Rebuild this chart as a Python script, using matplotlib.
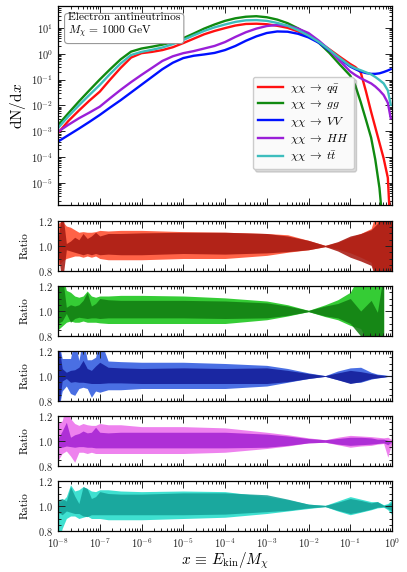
import numpy as np
import matplotlib
matplotlib.use("Agg")
import matplotlib.pyplot as plt
from matplotlib.ticker import LogLocator, MultipleLocator, NullFormatter

plt.rcParams.update({
    'font.family': 'serif',
    'font.serif': ['cmr10', 'DejaVu Serif'],
    'mathtext.fontset': 'cm',
    'axes.formatter.use_mathtext': True,
    'axes.unicode_minus': False,
    'font.size': 8,
    'axes.linewidth': 0.9,
})

# ---- main panel: log10(x) grid and log10(dN/dx) ----
log_x = [-8.0, -7.75, -7.5, -7.25, -7.0, -6.75, -6.5, -6.25, -6.0, -5.75, -5.5,
         -5.25, -5.0, -4.75, -4.5, -4.25, -4.0, -3.75, -3.5, -3.25, -3.0, -2.75,
         -2.5, -2.25, -2.0, -1.75, -1.5, -1.25, -1.0, -0.875, -0.75, -0.625, -0.5,
         -0.4, -0.3, -0.2, -0.1, -0.03]

log_qq = [-3.07, -2.6, -2.2, -1.82, -1.47, -1.0, -0.55, -0.15, 0.02, 0.07, 0.14,
          0.25, 0.41, 0.58, 0.75, 0.88, 0.99, 1.09, 1.15, 1.16, 1.14, 1.08,
          1.0, 0.86, 0.68, 0.45, 0.17, -0.12, -0.4, -0.52, -0.72, -1.45, -2.25,
          -2.85, -3.45, -4.05, -4.8, -7.0]
log_gg = [-2.76, -2.3, -1.85, -1.42, -1.0, -0.6, -0.22, 0.08, 0.2, 0.27, 0.35,
          0.45, 0.6, 0.78, 0.97, 1.13, 1.27, 1.37, 1.43, 1.45, 1.41, 1.32,
          1.18, 0.98, 0.74, 0.42, 0.03, -0.42, -0.85, -1.25, -1.87, -2.55, -3.25,
          -4.1, -5.2, -7.0, -9.0, -9.0]
log_vv = [-3.4, -3.15, -2.9, -2.64, -2.37, -2.08, -1.8, -1.5, -1.2, -0.9, -0.6,
          -0.35, -0.17, -0.08, -0.03, 0.03, 0.14, 0.3, 0.5, 0.67, 0.8, 0.86,
          0.85, 0.77, 0.63, 0.42, 0.12, -0.2, -0.5, -0.6, -0.69, -0.75, -0.78,
          -0.78, -0.76, -0.71, -0.65, -0.6]
log_hh = [-3.02, -2.75, -2.5, -2.28, -2.05, -1.72, -1.4, -1.1, -0.82, -0.55, -0.28,
          -0.1, 0.02, 0.1, 0.2, 0.3, 0.45, 0.65, 0.83, 0.97, 1.07, 1.11,
          1.08, 0.97, 0.8, 0.5, 0.15, -0.28, -0.69, -0.83, -0.95, -1.05, -1.15,
          -1.27, -1.42, -1.6, -1.9, -2.5]
log_tt = [-2.88, -2.42, -2.0, -1.6, -1.21, -0.78, -0.38, -0.05, 0.07, 0.15, 0.24,
          0.37, 0.53, 0.71, 0.88, 1.02, 1.13, 1.23, 1.29, 1.3, 1.27, 1.19,
          1.08, 0.91, 0.7, 0.45, 0.15, -0.17, -0.47, -0.57, -0.64, -0.72, -0.8,
          -0.9, -1.02, -1.15, -1.42, -1.98]

labels = [r'$\chi\chi\;\to\;q\bar{q}$', r'$\chi\chi\;\to\;gg$', r'$\chi\chi\;\to\;VV$',
          r'$\chi\chi\;\to\;HH$', r'$\chi\chi\;\to\;t\bar{t}$']
line_colors = ['#ff1010', '#108a10', '#0010ff', '#9a1fd8', '#3dbdbd']

# ---- ratio panels: log10(x) nodes, light band and dark band limits ----
log_xr = [-8.0, -7.9, -7.8, -7.7, -7.6, -7.5, -7.4, -7.3, -7.2, -7.1, -7.0,
          -6.8, -6.5, -6.0, -5.0, -4.0, -3.0, -2.5, -2.0, -1.6, -1.3, -1.0,
          -0.75, -0.5, -0.35, -0.2, -0.1, 0.0]

qq_light_hi = [1.18, 1.2, 1.16, 1.15, 1.13, 1.11, 1.115, 1.11, 1.11, 1.115, 1.125,
               1.12, 1.125, 1.125, 1.115, 1.11, 1.10, 1.09, 1.045, 1.005, 1.03, 1.07,
               1.10, 1.14, 1.3, 1.3, 1.3, 1.3]
qq_light_lo = [0.84, 0.88, 0.90, 0.91, 0.92, 0.92, 0.91, 0.92, 0.91, 0.92, 0.90,
               0.89, 0.89, 0.89, 0.90, 0.90, 0.925, 0.95, 0.97, 0.995, 0.975, 0.945,
               0.91, 0.87, 0.7, 0.7, 0.7, 0.7]
qq_dark_hi = [1.05, 1.3, 1.02, 1.04, 1.07, 1.05, 1.10, 1.06, 1.08, 1.11, 1.08,
              1.10, 1.10, 1.105, 1.11, 1.11, 1.10, 1.08, 1.045, 1.005, 1.035, 1.08,
              1.10, 1.13, 1.18, 1.3, 1.3, 1.3]
qq_dark_lo = [0.95, 0.7, 0.97, 0.96, 0.95, 0.94, 0.93, 0.94, 0.93, 0.94, 0.93,
              0.935, 0.93, 0.93, 0.94, 0.935, 0.945, 0.955, 0.97, 0.995, 0.96, 0.91,
              0.88, 0.845, 0.7, 0.7, 0.7, 0.7]

gg_light_hi = [1.3, 1.3, 1.165, 1.15, 1.12, 1.11, 1.12, 1.16, 1.12, 1.11, 1.12,
               1.12, 1.125, 1.125, 1.12, 1.105, 1.08, 1.05, 1.005, 1.05, 1.09, 1.15,
               1.3, 1.3, 1.3, 1.3, np.nan, np.nan]
gg_light_lo = [0.85, 0.88, 0.91, 0.92, 0.91, 0.91, 0.92, 0.91, 0.91, 0.91, 0.905,
               0.90, 0.90, 0.90, 0.90, 0.90, 0.93, 0.96, 0.995, 0.955, 0.93, 0.885,
               0.86, 0.7, 0.7, 0.7, np.nan, np.nan]
gg_dark_hi = [1.3, 1.3, 1.03, 1.05, 1.04, 1.05, 1.085, 1.15, 1.04, 1.06, 1.10,
              1.09, 1.085, 1.085, 1.085, 1.08, 1.065, 1.04, 1.005, 1.04, 1.06, 1.10,
              1.0, 1.085, 0.99, 1.3, np.nan, np.nan]
gg_dark_lo = [0.90, 0.92, 0.98, 0.91, 0.94, 0.95, 0.945, 0.94, 0.945, 0.945, 0.94,
              0.945, 0.945, 0.945, 0.945, 0.94, 0.945, 0.965, 0.995, 0.96, 0.945, 0.90,
              0.80, 0.80, 0.7, 0.7, np.nan, np.nan]

vv_light_hi = [1.3, 1.14, 1.14, 1.14, 1.3, 1.125, 1.3, 1.13, 1.13, 1.15, 1.3,
               1.12, 1.115, 1.11, 1.11, 1.10, 1.085, 1.06, 1.025, 1.003, 1.04, 1.065,
               1.07, 1.03, 1.015, 1.01, 1.005, 1.005]
vv_light_lo = [0.7, 0.88, 0.92, 0.86, 0.845, 0.90, 0.91, 0.90, 0.83, 0.88, 0.87,
               0.89, 0.89, 0.90, 0.90, 0.90, 0.92, 0.95, 0.98, 0.997, 0.97, 0.945,
               0.95, 0.975, 0.985, 0.99, 0.995, 0.995]
vv_dark_hi = [1.3, 1.06, 1.03, 1.045, 1.05, 1.07, 1.125, 1.06, 1.045, 1.08, 1.11,
              1.07, 1.065, 1.06, 1.065, 1.06, 1.065, 1.045, 1.02, 1.003, 1.025, 1.045,
              1.035, 1.02, 1.01, 1.005, 1.003, 1.003]
vv_dark_lo = [0.7, 0.96, 0.98, 0.95, 0.955, 0.95, 0.95, 0.945, 0.94, 0.94, 0.94,
              0.945, 0.945, 0.94, 0.94, 0.94, 0.94, 0.955, 0.98, 0.997, 0.97, 0.94,
              0.955, 0.98, 0.985, 0.992, 0.997, 0.997]

hh_light_hi = [1.15, 1.16, 1.3, 1.18, 1.14, 1.125, 1.14, 1.13, 1.125, 1.125, 1.14,
               1.13, 1.13, 1.115, 1.115, 1.105, 1.07, 1.05, 1.025, 1.01, 1.03, 1.045,
               1.04, 1.035, 1.03, 1.025, 1.03, 1.01]
hh_light_lo = [0.845, 0.90, 0.92, 0.88, 0.83, 0.91, 0.91, 0.90, 0.91, 0.90, 0.90,
               0.90, 0.90, 0.90, 0.90, 0.91, 0.94, 0.96, 0.985, 0.99, 0.97, 0.95,
               0.96, 0.965, 0.975, 0.98, 0.87, 0.99]
hh_dark_hi = [1.02, 1.08, 1.15, 1.03, 1.05, 1.06, 1.08, 1.065, 1.07, 1.11, 1.07,
              1.065, 1.07, 1.07, 1.07, 1.07, 1.055, 1.04, 1.02, 1.01, 1.02, 1.03,
              1.03, 1.025, 1.015, 1.015, 1.005, 1.0]
hh_dark_lo = [0.95, 0.95, 0.96, 0.955, 0.95, 0.955, 0.955, 0.95, 0.95, 0.945, 0.945,
              0.945, 0.945, 0.945, 0.945, 0.945, 0.95, 0.965, 0.985, 0.99, 0.975, 0.965,
              0.97, 0.975, 0.98, 0.985, 0.97, 0.995]

tt_light_hi = [1.02, 1.04, 1.075, 1.17, 1.12, 1.13, 1.155, 1.14, 1.12, 1.115, 1.13,
               1.13, 1.12, 1.115, 1.12, 1.115, 1.075, 1.05, 1.015, 1.005, 1.04, 1.075,
               1.055, 1.035, 1.035, 1.01, 1.02, 1.05]
tt_light_lo = [0.7, 0.82, 0.90, 0.92, 0.92, 0.90, 0.91, 0.92, 0.90, 0.90, 0.90,
               0.89, 0.89, 0.89, 0.90, 0.91, 0.94, 0.96, 0.98, 0.995, 0.96, 0.93,
               0.95, 0.97, 0.985, 0.99, 0.97, 0.93]
tt_dark_hi = [1.05, 1.06, 1.04, 1.155, 1.08, 1.02, 1.155, 1.14, 1.06, 1.075, 1.115,
              1.10, 1.095, 1.095, 1.105, 1.105, 1.09, 1.055, 1.015, 1.005, 1.03, 1.06,
              1.045, 1.025, 1.035, 1.005, 1.01, 1.03]
tt_dark_lo = [0.95, 0.93, 0.96, 0.95, 0.94, 0.94, 0.92, 0.915, 0.93, 0.93, 0.93,
              0.93, 0.93, 0.93, 0.93, 0.935, 0.955, 0.965, 0.985, 0.995, 0.965, 0.94,
              0.955, 0.975, 0.99, 0.995, 0.98, 0.96]

bands = [
    (qq_light_lo, qq_light_hi, qq_dark_lo, qq_dark_hi, '#ff6347', '#a81a12'),
    (gg_light_lo, gg_light_hi, gg_dark_lo, gg_dark_hi, '#35cc35', '#127e12'),
    (vv_light_lo, vv_light_hi, vv_dark_lo, vv_dark_hi, '#4a6fe3', '#141d99'),
    (hh_light_lo, hh_light_hi, hh_dark_lo, hh_dark_hi, '#ee82ee', '#a524d3'),
    (tt_light_lo, tt_light_hi, tt_dark_lo, tt_dark_hi, '#3fe0d0', '#15a198'),
]

fig = plt.figure(figsize=(4.07, 5.72), dpi=100)
left, width = 58 / 407, 334 / 407
H = 572.0

def style_axes(ax):
    ax.set_xscale('log')
    ax.set_xlim(1e-8, 1)
    ax.xaxis.set_major_locator(LogLocator(base=10, numticks=20))
    ax.xaxis.set_minor_locator(LogLocator(base=10, subs=np.arange(2, 10), numticks=20))
    ax.xaxis.set_minor_formatter(NullFormatter())
    ax.tick_params(which='both', direction='in', top=True, right=True, width=0.7,
                   labelsize=7.5, colors='#222222')
    ax.tick_params(which='major', length=5)
    ax.tick_params(which='minor', length=2.5)

x_main = 10 ** np.array(log_x)
ax = fig.add_axes([left, (H - 205) / H, width, 199 / H])
style_axes(ax)
for logy, col, lab in zip([log_qq, log_gg, log_vv, log_hh, log_tt], line_colors, labels):
    ax.plot(x_main, 10 ** np.array(logy), color=col, lw=1.7, label=lab)
ax.set_yscale('log')
ax.set_ylim(1.4e-6, 70)
ax.yaxis.set_major_locator(LogLocator(base=10, numticks=20))
ax.yaxis.set_minor_locator(LogLocator(base=10, subs=np.arange(2, 10), numticks=20))
ax.yaxis.set_minor_formatter(NullFormatter())
ax.set_xticklabels([])
ax.set_ylabel(r'$\mathrm{dN/d}x$', fontsize=11, labelpad=2)
ax.text(0.03, 0.965, 'Electron antineutrinos\n' + r'$M_\chi\,=\,1000\ \mathrm{GeV}$',
        transform=ax.transAxes, va='top', ha='left', fontsize=8.3, linespacing=1.1,
        bbox=dict(boxstyle='round,pad=0.3', facecolor='white', edgecolor='#999999', lw=0.8))
ax.legend(loc='upper left', bbox_to_anchor=(0.565, 0.675), fontsize=8.5,
          handlelength=2.1, handletextpad=0.6, labelspacing=0.28, frameon=True,
          fancybox=True, shadow={'alpha': 0.2}, facecolor='#fafafa',
          edgecolor='#cccccc', framealpha=1, borderpad=0.45)

x_r = 10 ** np.array(log_xr)
tops = [221, 286, 351, 416, 481]
for i, (top, (llo, lhi, dlo, dhi, cl, cd)) in enumerate(zip(tops, bands)):
    axr = fig.add_axes([left, (H - top - 50) / H, width, 50 / H])
    style_axes(axr)
    axr.fill_between(x_r, llo, lhi, color=cl, lw=0)
    axr.fill_between(x_r, dlo, dhi, color=cd, lw=0, alpha=0.88)
    axr.set_ylim(0.8, 1.2)
    axr.yaxis.set_major_locator(MultipleLocator(0.2))
    axr.yaxis.set_minor_locator(MultipleLocator(0.05))
    axr.set_ylabel('Ratio', fontsize=8, labelpad=6)
    if i < 4:
        axr.set_xticklabels([])
    else:
        axr.set_xlabel(r'$x\,\equiv\,E_{\rm kin}/M_\chi$', fontsize=11, labelpad=1)

fig.savefig('out.png', dpi=100)
